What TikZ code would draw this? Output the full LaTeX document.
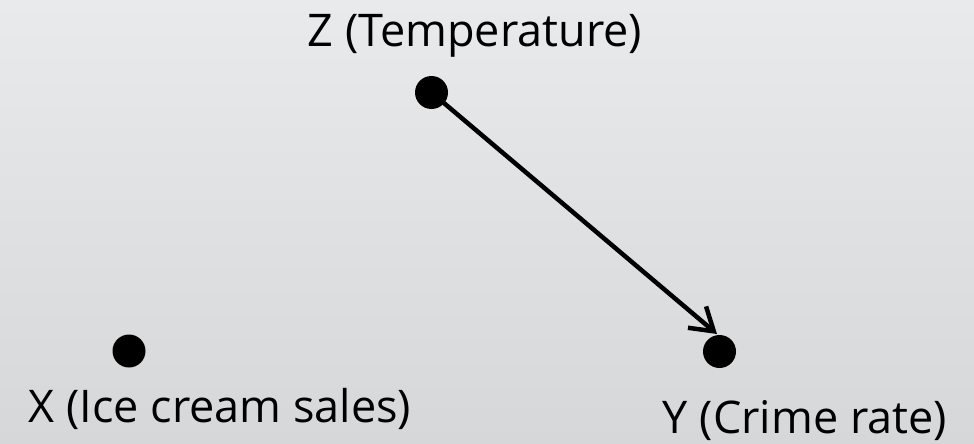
\documentclass[tikz,border=0pt]{standalone}
\usepackage{fontspec}
\setmainfont{Open Sans}
\usetikzlibrary{arrows.meta}
\begin{document}
\begin{tikzpicture}[x=1pt,y=-1pt,
  dotnode/.style={circle,fill=black,inner sep=0pt,minimum size=33pt},
  labeltext/.style={anchor=base,inner sep=0pt,font=\fontsize{45}{54}\selectfont,text=black},
  causal/.style={line width=4.5pt,-{Straight Barb[length=22pt,width=28pt,line width=4.5pt]}}]
\shade[top color={rgb,255:red,233;green,234;blue,236},bottom color={rgb,255:red,214;green,215;blue,217}] (0,0) rectangle (974,444);
\useasboundingbox (0,0) rectangle (974,444);
\node[dotnode] (Z) at (431.5,92.5) {};
\node[dotnode] (Y) at (719.5,351.5) {};
\node[dotnode] (X) at (129,351) {};
\coordinate (Ytop) at (717,334);
\node[labeltext] (Zl) at (475,47) {Z (Temperature)};
\node[labeltext] (Xl) at (220,422) {X (Ice cream sales)};
\node[labeltext] (Yl) at (805,433) {Y (Crime rate)};
\draw[causal] (Z.center) -- (Ytop);
\end{tikzpicture}
\end{document}
